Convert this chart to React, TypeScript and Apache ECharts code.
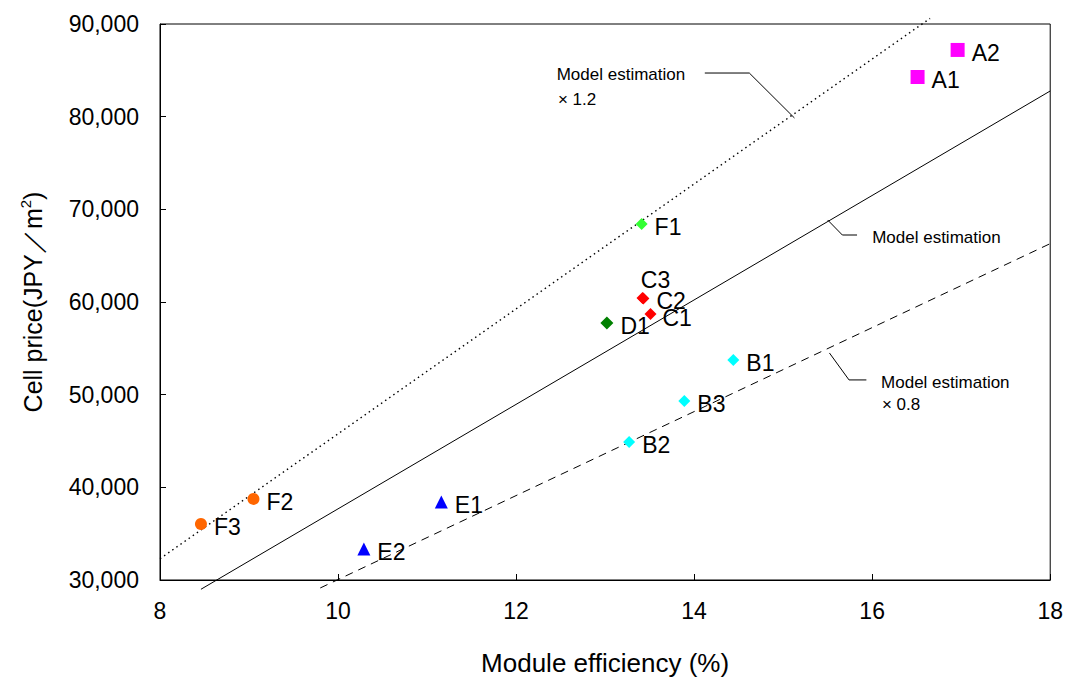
import React, { useEffect, useRef } from "react";
import * as echarts from "echarts";

// ---- data (module efficiency %, cell price JPY/m2) ----
const groupA: [string, number, number][] = [
  ["A1", 16.51, 84280],
  ["A2", 16.96, 87200],
];
const groupB: [string, number, number][] = [
  ["B1", 14.44, 53750],
  ["B2", 13.27, 44900],
  ["B3", 13.89, 49320],
];
const groupC: [string, number, number][] = [
  ["C1", 13.51, 58700],
  ["C2", 13.43, 60380],
  ["C3", 13.42, 60440],
];
const groupD: [string, number, number][] = [["D1", 13.02, 57740]];
const groupE: [string, number, number][] = [
  ["E1", 11.16, 38420],
  ["E2", 10.29, 33350],
];
const groupF1: [string, number, number][] = [["F1", 13.41, 68425]];
const groupF23: [string, number, number][] = [
  ["F2", 9.05, 38750],
  ["F3", 8.46, 36050],
];

// model estimation lines (endpoints)
const modelBase: [number, number][] = [
  [8.46, 29000],
  [18, 82770],
];
const modelHigh: [number, number][] = [
  [8, 32300],
  [16.65, 90600],
];
const modelLow: [number, number][] = [
  [9.8, 29140],
  [18, 66300],
];

// annotation leader lines
const leaderHigh: [number, number][] = [
  [14.12, 84710],
  [14.62, 84710],
  [15.127, 79860],
];
const leaderBase: [number, number][] = [
  [15.5, 68850],
  [15.665, 67230],
  [15.83, 67230],
];
const leaderLow: [number, number][] = [
  [15.52, 54500],
  [15.74, 51590],
  [15.935, 51590],
];

// annotation texts: [text, x, y]
const annotations: [string, number, number][] = [
  ["Model estimation", 12.456, 84497],
  ["× 1.2", 12.47, 81800],
  ["Model estimation", 16.0, 66910],
  ["Model estimation", 16.1, 51260],
  ["× 0.8", 16.11, 48890],
];

const FONT = "'Liberation Sans', Arial, sans-serif";

// label placement styles (not data)
const labelPlacement: Record<string, any> = {
  C3: { position: "top", distance: 3, offset: [13, 3] },
  C1: { position: "right", distance: 6, offset: [0, 4] },
};

function toItems(group: [string, number, number][]) {
  return group.map(([name, x, y]) => {
    const item: any = { name, value: [x, y] };
    if (labelPlacement[name]) item.label = labelPlacement[name];
    return item;
  });
}

function scatter(
  group: [string, number, number][],
  symbol: string,
  size: number,
  color: string
) {
  return {
    type: "scatter",
    symbol,
    symbolSize: size,
    itemStyle: { color, opacity: 1 },
    data: toItems(group),
    label: {
      show: true,
      position: "right",
      distance: 7,
      offset: [0, 3],
      formatter: (p: any) => p.name,
      fontFamily: FONT,
      fontSize: 23,
      color: "#000",
    },
    z: 5,
  };
}

function line(data: [number, number][], type: any, width = 1) {
  return {
    type: "line",
    data,
    showSymbol: false,
    symbol: "none",
    clip: false,
    silent: true,
    lineStyle: { color: "#000", width, type },
    z: 3,
  };
}

export default function App() {
  const ref = useRef<HTMLDivElement>(null);
  useEffect(() => {
    if (!ref.current) return;
    const chart = echarts.init(ref.current, undefined, { renderer: "svg" });
    const option: any = {
      animation: false,
      backgroundColor: "#fff",
      grid: {
        left: 160,
        right: 15,
        top: 24,
        bottom: 101,
        show: true,
        borderColor: "#000",
        borderWidth: 1,
      },
      xAxis: {
        type: "value",
        min: 8,
        max: 18,
        interval: 2,
        name: "Module efficiency (%)",
        nameLocation: "middle",
        nameGap: 70,
        nameTextStyle: { fontFamily: FONT, fontSize: 26, color: "#000" },
        axisLine: { show: true, lineStyle: { color: "#000", width: 1 } },
        axisTick: { show: true, inside: true, length: 6, lineStyle: { color: "#000" } },
        axisLabel: { fontFamily: FONT, fontSize: 23, color: "#000", margin: 19 },
        splitLine: { show: false },
      },
      yAxis: {
        type: "value",
        min: 30000,
        max: 90000,
        interval: 10000,
        name: "{a|Cell price(JPY／m}{s|2}{a|)}",
        nameLocation: "middle",
        nameGap: 112,
        nameTextStyle: {
          fontFamily: FONT,
          color: "#000",
          rich: {
            a: { fontFamily: FONT, fontSize: 25, color: "#000", lineHeight: 30 },
            s: {
              fontFamily: FONT,
              fontSize: 15,
              color: "#000",
              verticalAlign: "top",
              lineHeight: 30,
              padding: [0, 0, 14, 0],
            },
          },
        },
        axisLine: { show: true, lineStyle: { color: "#000", width: 1 } },
        axisTick: { show: true, inside: true, length: 6, lineStyle: { color: "#000" } },
        axisLabel: {
          fontFamily: FONT,
          fontSize: 23,
          color: "#000",
          margin: 21,
          formatter: (v: number) => v.toLocaleString("en-US"),
        },
        splitLine: { show: false },
      },
      series: [
        line(modelBase, "solid"),
        line(modelHigh, [1.5, 3.5], 1.4),
        line(modelLow, [8, 6]),
        line(leaderHigh, "solid"),
        line(leaderBase, "solid"),
        line(leaderLow, "solid"),
        scatter(groupA, "rect", 14, "#FF00FF"),
        scatter(groupB, "diamond", 12, "#00FFFF"),
        scatter(groupC, "diamond", 12, "#FF0000"),
        scatter(groupD, "diamond", 13, "#008000"),
        scatter(groupE, "triangle", 13, "#0000FF"),
        scatter(groupF1, "diamond", 12, "#33FF33"),
        scatter(groupF23, "circle", 12, "#FF6600"),
      ],
    };
    chart.setOption(option);

    const graphic = annotations.map(([text, x, y]) => {
      const [px, py] = chart.convertToPixel({ gridIndex: 0 }, [x, y]) as number[];
      return {
        type: "text",
        x: px,
        y: py,
        silent: true,
        style: {
          text,
          fontFamily: FONT,
          fontSize: 17,
          fill: "#000",
          textAlign: "left",
          textVerticalAlign: "middle",
        },
        z: 10,
      };
    });
    chart.setOption({ graphic });

    return () => chart.dispose();
  }, []);
  return (
    <div
      ref={ref}
      style={{ position: "fixed", left: 0, top: 0, width: 1066, height: 681 }}
    />
  );
}
